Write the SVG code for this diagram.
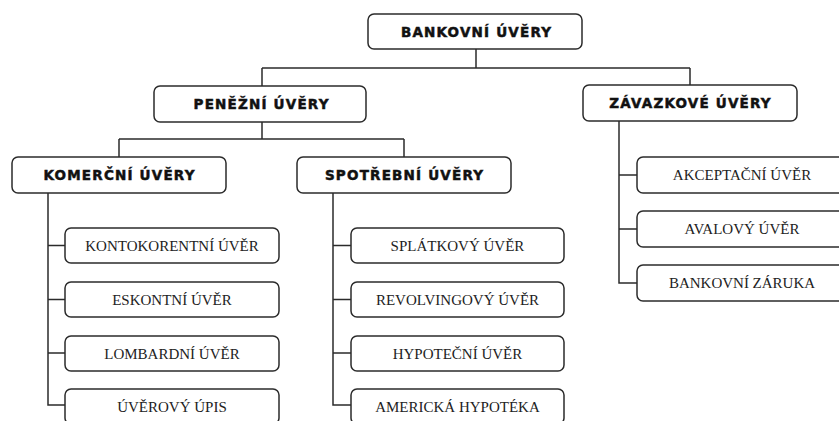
<svg xmlns="http://www.w3.org/2000/svg" width="839" height="421" viewBox="0 0 839 421">
<style>
.b{fill:#fff;stroke:#2b2b2b;stroke-width:1.5}
.h{font-family:"DejaVu Sans","Liberation Sans",sans-serif;font-weight:bold;font-size:13.5px;letter-spacing:1.2px;fill:#111;stroke:#111;stroke-width:0.5;text-anchor:middle}
.s{font-family:"Liberation Serif","Times New Roman",serif;font-size:15px;fill:#222;text-anchor:middle}
.c{fill:none;stroke:#2b2b2b;stroke-width:1.5}
</style>
<rect width="839" height="421" fill="#fff"/>
<g id="connectors" class="c">
<path d="M476 49V68M262 68H690M262 68V86M690 68V85"/>
<path d="M262 122V139M119 139H404M119 139V157M404 139V157"/>
<path d="M48 193V405H65M48 245.5H65M48 299.5H65M48 353H65"/>
<path d="M333 193V405H351M333 245.5H351M333 299.5H351M333 353H351"/>
<path d="M619 121V283H637M619 175H637M619 229H637"/>
</g>
<g id="n-bankovni"><rect class="b" x="368" y="14" width="214" height="35" rx="6"/><text class="h" x="476.6" y="36.5">BANKOVNÍ ÚVĚRY</text></g>
<g id="n-penezni"><rect class="b" x="154" y="86" width="212" height="36" rx="6"/><text class="h" x="261.6" y="109">PENĚŽNÍ ÚVĚRY</text></g>
<g id="n-zavazkove"><rect class="b" x="583" y="85" width="214" height="36" rx="6"/><text class="h" x="690.6" y="108">ZÁVAZKOVÉ ÚVĚRY</text></g>
<g id="n-komercni"><rect class="b" x="12" y="157" width="214" height="36" rx="6"/><text class="h" x="119.6" y="180">KOMERČNÍ ÚVĚRY</text></g>
<g id="n-spotrebni"><rect class="b" x="297" y="157" width="214" height="36" rx="6"/><text class="h" x="404.6" y="180">SPOTŘEBNÍ ÚVĚRY</text></g>
<g id="n-kontokorentni"><rect class="b" x="65" y="228" width="214" height="35" rx="6"/><text class="s" x="172" y="250.5">KONTOKORENTNÍ ÚVĚR</text></g>
<g id="n-eskontni"><rect class="b" x="65" y="282" width="214" height="35" rx="6"/><text class="s" x="172" y="304.5">ESKONTNÍ ÚVĚR</text></g>
<g id="n-lombardni"><rect class="b" x="65" y="336" width="214" height="35" rx="6"/><text class="s" x="172" y="358.5">LOMBARDNÍ ÚVĚR</text></g>
<g id="n-uverovy-upis"><rect class="b" x="65" y="389" width="214" height="35" rx="6"/><text class="s" x="172" y="411.5">ÚVĚROVÝ ÚPIS</text></g>
<g id="n-splatkovy"><rect class="b" x="351" y="228" width="213" height="35" rx="6"/><text class="s" x="457.5" y="250.5">SPLÁTKOVÝ ÚVĚR</text></g>
<g id="n-revolvingovy"><rect class="b" x="351" y="282" width="213" height="35" rx="6"/><text class="s" x="457.5" y="304.5">REVOLVINGOVÝ ÚVĚR</text></g>
<g id="n-hypotecni"><rect class="b" x="351" y="336" width="213" height="35" rx="6"/><text class="s" x="457.5" y="358.5">HYPOTEČNÍ ÚVĚR</text></g>
<g id="n-americka"><rect class="b" x="351" y="389" width="213" height="35" rx="6"/><text class="s" x="457.5" y="411.5">AMERICKÁ HYPOTÉKA</text></g>
<g id="n-akceptacni"><rect class="b" x="637" y="157" width="214" height="36" rx="6"/><text class="s" x="742" y="180">AKCEPTAČNÍ ÚVĚR</text></g>
<g id="n-avalovy"><rect class="b" x="637" y="211" width="214" height="36" rx="6"/><text class="s" x="742" y="234">AVALOVÝ ÚVĚR</text></g>
<g id="n-zaruka"><rect class="b" x="637" y="265" width="214" height="36" rx="6"/><text class="s" x="742" y="288">BANKOVNÍ ZÁRUKA</text></g>
</svg>
